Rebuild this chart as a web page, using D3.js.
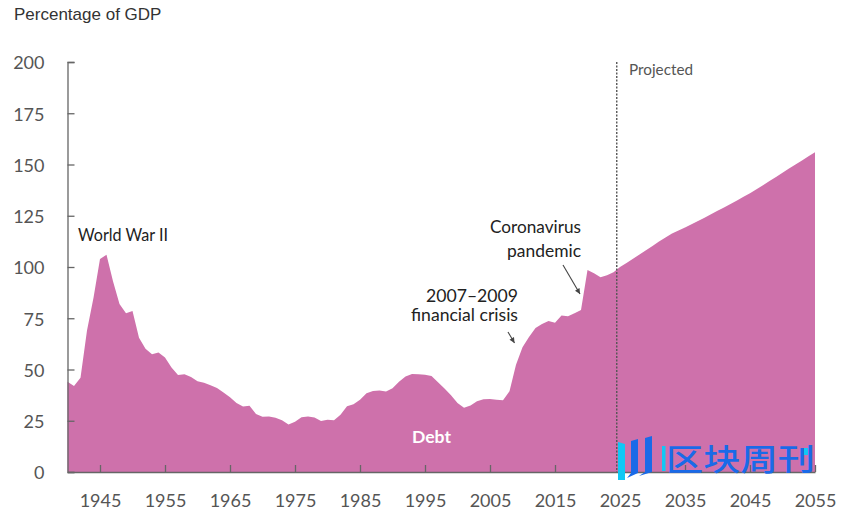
<!DOCTYPE html>
<html>
<head>
<meta charset="utf-8">
<script src="https://cdn.jsdelivr.net/npm/d3@7"></script>
<style>
  body { margin: 0; background: #fff; }
  svg { display: block; }
  text { font-family: Lato, sans-serif; }
</style>
</head>
<body>
<svg id="chart" width="842" height="517"></svg>
<script>
const years = d3.range(1940, 2056)
const debt = [
  44, 42, 46, 69, 85, 103.9, 106, 93, 82, 77.5,
  78.5, 65.5, 60.1, 57.5, 58.3, 55.8, 51, 47.3, 47.7, 46.3,
  44.3, 43.5, 42.3, 41, 38.8, 36.5, 33.7, 31.9, 32.3, 28.3,
  27, 27.1, 26.5, 25.2, 23.2, 24.5, 26.7, 27.1, 26.6, 24.9,
  25.5, 25.2, 27.9, 32.1, 33.1, 35.3, 38.4, 39.5, 39.8, 39.3,
  40.8, 44, 46.6, 47.8, 47.7, 47.5, 46.8, 43.8, 40.7, 37.5,
  33.6, 31.4, 32.5, 34.5, 35.5, 35.6, 35.2, 35, 39.4, 52.3,
  60.8, 65.8, 70.3, 72.2, 73.7, 72.8, 76.4, 76, 77.4, 79,
  98.5, 97, 95, 96, 97.5, 100, 102, 104, 106.1, 108.2,
  110.3, 112.4, 114.4, 116.4, 117.8, 119.3, 120.8, 122.4, 124, 125.7,
  127.4, 129, 130.7, 132.5, 134.3, 136, 137.9, 139.9, 141.9, 143.9,
  146, 148, 150, 152, 154, 156
]
const yTicks = [0, 25, 50, 75, 100, 125, 150, 175, 200]
const xTicks = d3.range(1945, 2056, 10)
const projectedFrom = 2024.5

const svg = d3.select('#chart')
const x = d3.scaleLinear().domain([1940, 2055]).range([67.5, 815])
const y = d3.scaleLinear().domain([0, 200]).range([472, 62])

// debt area
const area = d3.area()
  .x((d, i) => x(years[i]))
  .y0(y(0))
  .y1(d => y(d))
svg.append('path')
  .datum(debt)
  .attr('d', area)
  .attr('fill', '#ce71ab')

// axes, ticks point into the plot
const yAxis = d3.axisLeft(y).tickValues(yTicks).tickSize(-7).tickPadding(0)
const xAxis = d3.axisBottom(x).tickValues(xTicks).tickFormat(d3.format('d')).tickSize(-7).tickSizeOuter(0)

const gy = svg.append('g').attr('transform', `translate(${x(1940)},0)`).call(yAxis)
const gx = svg.append('g').attr('transform', `translate(0,${y(0)})`).call(xAxis)
gy.selectAll('.domain, line').attr('stroke', '#666').attr('stroke-width', 1.3)
gx.selectAll('.domain, line').attr('stroke', '#666').attr('stroke-width', 1.3)
gy.selectAll('text')
  .attr('x', -23)
  .attr('y', 1)
  .attr('font-size', 18)
  .attr('fill', '#555')
gx.selectAll('text')
  .attr('y', 22)
  .attr('font-size', 18)
  .attr('fill', '#555')
gy.attr('font-family', null)
gx.attr('font-family', null)

// projection marker
svg.append('line')
  .attr('x1', x(projectedFrom)).attr('x2', x(projectedFrom))
  .attr('y1', y(200)).attr('y2', y(0))
  .attr('stroke', '#555')
  .attr('stroke-width', 1.4)
  .attr('stroke-dasharray', '2 1.5')

// the annotation face is narrower than Lato, so each label is fitted to its width
const label = (px, py, txt, size, fill, width, anchor) => svg.append('text')
  .attr('x', px).attr('y', py)
  .attr('font-size', size)
  .attr('fill', fill)
  .attr('text-anchor', anchor || 'start')
  .attr('textLength', width)
  .attr('lengthAdjust', 'spacingAndGlyphs')
  .text(txt)

svg.append('text')
  .attr('x', 14).attr('y', 20)
  .attr('font-size', 17)
  .attr('fill', '#333')
  .style('font-family', '"Liberation Sans", Arial, sans-serif')
  .text('Percentage of GDP')
label(629, 75, 'Projected', 16, '#555', 64)
label(78, 241, 'World War II', 18, '#222', 90)
label(581, 233, 'Coronavirus', 18, '#222', 91, 'end')
label(581, 257, 'pandemic', 18, '#222', 74, 'end')
label(518, 302, '2007–2009', 18, '#222', 92, 'end')
label(518, 321, 'financial crisis', 18, '#222', 107, 'end')
label(412, 443, 'Debt', 17, '#fff', 39).attr('font-weight', 700)

// arrows
const arrow = (x1, y1, x2, y2) => {
  svg.append('line')
    .attr('x1', x1).attr('y1', y1).attr('x2', x2).attr('y2', y2)
    .attr('stroke', '#444').attr('stroke-width', 1.1)
  const a = Math.atan2(y2 - y1, x2 - x1)
  const s = 6
  const pts = [[x2, y2],
    [x2 - s * Math.cos(a - 0.45), y2 - s * Math.sin(a - 0.45)],
    [x2 - s * Math.cos(a + 0.45), y2 - s * Math.sin(a + 0.45)]]
  svg.append('polygon').attr('points', pts.join(' ')).attr('fill', '#444')
}
arrow(563, 265, 580, 294)
arrow(508, 332, 514.5, 343)

// watermark
const mark = svg.append('g')
mark.append('polygon').attr('points', '618,442 625,444 625,480 618,480').attr('fill', '#10c8f5')
mark.append('polygon').attr('points', '631,441 638,439 638,473 627,478 631,473').attr('fill', '#1a6ae8')
mark.append('polygon').attr('points', '645,438 652,436 652,472 639,476 645,472').attr('fill', '#1a6ae8')
mark.append('rect').attr('x', 662).attr('y', 446).attr('width', 3.5).attr('height', 25).attr('fill', '#10c8f5')
mark.append('text')
  .attr('x', 666).attr('y', 470)
  .attr('font-size', 30)
  .attr('font-weight', 500)
  .attr('fill', '#1a6ae8')
  .attr('textLength', 149)
  .attr('lengthAdjust', 'spacingAndGlyphs')
  .style('font-family', '"Noto Sans CJK SC"')
  .text('区块周刊')
mark.append('rect').attr('x', 804).attr('y', 448).attr('width', 4).attr('height', 7).attr('fill', '#10c8f5')
</script>
</body>
</html>
